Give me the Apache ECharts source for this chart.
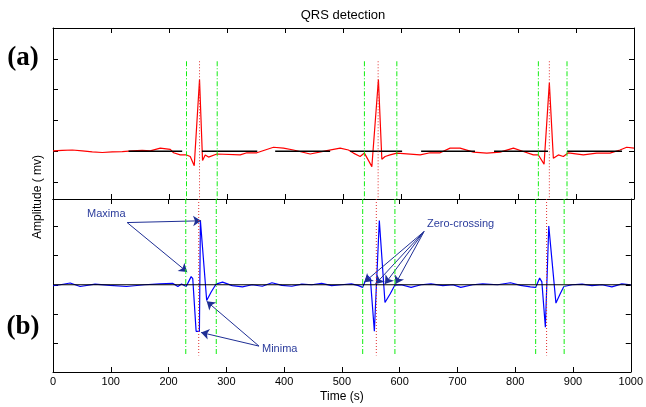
<!DOCTYPE html>
<html><head><meta charset="utf-8">
<script src="https://cdn.jsdelivr.net/npm/echarts@6/dist/echarts.min.js"></script>
<style>html,body{margin:0;padding:0;background:#fff}#c{width:646px;height:407px}</style>
</head><body><div id="c"></div>
<script>
// ---- data ----
const ecgTime = [0,16,33.3,50.4,67.6,84.8,102,119.2,136.4,153.6,167.4,184.6,201.8,207.5,219,229.8,236.2,243.1,252.2,257.4,262,267.7,282.1,322.2,333.7,350.9,379.5,396.7,413.9,442.6,471.4,494.2,508.5,517.1,528.6,536,548.8,560.1,566,571.6,580.2,591.8,631.9,649.1,666.3,683.5,700.7,723.6,746.6,769.5,792.4,809.6,826.8,835.4,845.2,854.3,861.2,869.8,878.4,887,912.8,935.8,958.7,975.9,987.4,1000];
const ecgAmp = [0.01,0.03,0.04,0.01,-0.02,-0.04,-0.02,-0.01,0.01,0.03,0.01,0.10,0.06,-0.05,-0.12,-0.12,-0.17,-0.47,2.33,-0.30,-0.12,-0.19,-0.09,-0.12,-0.05,-0.05,0.13,0.10,0.04,-0.09,0.02,0.10,0.04,-0.06,-0.17,-0.06,-0.50,2.33,-0.26,-0.17,-0.12,-0.06,-0.12,-0.05,-0.05,0.10,0.10,-0.03,-0.06,-0.03,0.10,-0.01,-0.12,-0.12,-0.42,2.22,-0.23,-0.12,-0.17,-0.05,-0.12,-0.06,-0.06,0.04,0.13,0.10];

const derivTime = [0,12.6,29.8,47,72.8,98.6,127.3,158.7,184.6,207,216.1,222.4,230.5,239.1,241.9,247.7,253.4,255.1,258,266,274,282.1,293.5,310.2,327.9,344.6,362.3,379,396.2,413.4,430.6,447.8,465,482.2,499.4,516.6,528.7,536,544.1,549.3,556.2,564.8,574.6,583.7,591.8,602.6,619.8,637,654.2,674.8,692.1,705.8,726.5,743.7,769.5,791.9,809.1,826.3,835.4,842.3,846.1,852.2,858.1,870.5,877.9,884.2,898.5,915.7,932.9,950.1,967.3,984.5,1000];
const derivAmp = [-0.03,0,0.06,-0.06,0.02,-0.02,-0.06,0,0.03,0.05,-0.06,0.03,-0.06,0.28,0.21,-1.60,-1.60,2.21,2.21,-0.54,-0.24,0.02,0.09,-0.03,-0.07,0,-0.05,0.07,-0.02,-0.05,0.02,0,0.05,-0.03,0,0.03,-0.03,-0.09,0.31,0.21,-1.60,2.21,-0.61,-0.31,-0.01,0,-0.09,0,0.03,-0.03,0,-0.09,0,0.03,0,0.07,-0.02,-0.07,-0.09,0.23,0.10,-1.46,2.02,-0.63,-0.31,-0.06,0,0.02,-0.03,0,-0.07,0.03,0];

const qrsOnset  = [229.8, 536, 835.4];
const qrsOffset = [282.6, 591.8, 884.7];
const rPeak     = [252.2, 559.6, 854.3];

const baseSegStart = [130, 256.3, 382.4, 511.4, 633.6, 759.1, 884.7];
const baseSegEnd   = [222.4, 351.6, 477, 600.9, 726.4, 852, 979.4];

const topYTicks = [-1,0,1,2,3];
const botYTicks = [-2,-1,0,1,2];

// annotations (data coordinates of the lower panel)
const maximaFrom = [128.3, 2.14];
const maximaTo = [[256.3, 2.2], [232.2, 0.44]];
const minimaFrom = [356.6, -2.11];
const minimaTo = [[256.3, -1.64], [266, -0.57]];
const zeroFrom = [642.2, 1.83];
const zeroTo = [[539, 0.09], [558.4, 0.03], [574.6, 0.03], [592.8, 0.03]];

// ---- chart ----
const chart = echarts.init(document.getElementById('c'), null, {renderer: 'canvas'});
const FONT = 'Liberation Sans, Arial, Helvetica, sans-serif';
const TOP = {min: -1.55, max: 4, vTop: 2.92};
const BOT = {min: -3, max: 2.95, vBot: -2.43};

function xAx(grid, pos, labels) {
  return {
    type: 'value', gridIndex: grid, position: pos, min: 0, max: 1000, interval: 100,
    axisLine: {show: true, onZero: false, lineStyle: {color: '#000', width: 1}},
    axisTick: {show: true, inside: true, length: 5, lineStyle: {color: '#000'}},
    axisLabel: {show: labels, color: '#000', fontFamily: FONT, fontSize: 11, margin: 4, formatter: v => String(v)},
    splitLine: {show: false},
    name: labels ? 'Time (s)' : '', nameLocation: 'middle', nameGap: 19,
    nameTextStyle: {color: '#000', fontFamily: FONT, fontSize: 12}
  };
}
function yAx(grid, pos, r, ticks) {
  return {
    type: 'value', gridIndex: grid, position: pos, min: r.min, max: r.max,
    axisLine: {show: true, onZero: false, lineStyle: {color: '#000', width: 1}},
    axisTick: {show: true, inside: true, length: 5, customValues: ticks, lineStyle: {color: '#000'}},
    axisLabel: {show: false},
    splitLine: {show: false}
  };
}

const series = [];
series.push({type: 'line', xAxisIndex: 0, yAxisIndex: 0, data: ecgTime.map((t, i) => [t, ecgAmp[i]]),
  showSymbol: false, lineStyle: {color: '#ff0000', width: 1.2}, z: 3});
baseSegStart.forEach((s, i) => series.push({type: 'line', xAxisIndex: 0, yAxisIndex: 0,
  data: [[s, 0], [baseSegEnd[i], 0]], showSymbol: false, lineStyle: {color: '#000', width: 1.4}, z: 4}));
series.push({type: 'line', xAxisIndex: 2, yAxisIndex: 2, data: derivTime.map((t, i) => [t, derivAmp[i]]),
  showSymbol: false, lineStyle: {color: '#0000ff', width: 1.2}, z: 3});
series.push({type: 'line', xAxisIndex: 2, yAxisIndex: 2, data: [[0, 0], [1000, 0]],
  showSymbol: false, lineStyle: {color: '#000', width: 1.2}, z: 4});

const greenStyle = {color: '#11ee11', width: 1, type: [5, 2, 1, 2]};
const redStyle = {color: '#e03030', width: 1, type: [1, 2]};
function vline(t, axis, y0, y1, style) {
  series.push({type: 'line', xAxisIndex: axis, yAxisIndex: axis, data: [[t, y0], [t, y1]],
    showSymbol: false, lineStyle: style, z: 5});
}
qrsOnset.concat(qrsOffset).forEach(t => { vline(t, 0, TOP.vTop, TOP.min, greenStyle); vline(t, 2, BOT.max, BOT.vBot, greenStyle); });
rPeak.forEach(t => { vline(t, 0, TOP.vTop, TOP.min, redStyle); vline(t, 2, BOT.max, BOT.vBot, redStyle); });

// arrows
const arrowData = [];
maximaTo.forEach(p => arrowData.push([{coord: maximaFrom}, {coord: p}]));
minimaTo.forEach(p => arrowData.push([{coord: minimaFrom}, {coord: p}]));
zeroTo.forEach(p => arrowData.push([{coord: zeroFrom}, {coord: p}]));
series.push({type: 'line', xAxisIndex: 2, yAxisIndex: 2, data: [[0, 0]], showSymbol: false, lineStyle: {opacity: 0}, z: 6,
  markLine: {silent: true, animation: false, symbol: ['none', 'arrow'], symbolSize: 8, symbolOffset: 0,
    label: {show: false}, itemStyle: {color: '#1f2f95'}, lineStyle: {color: '#1f2f95', width: 1, type: 'solid'}, data: arrowData}});

const blueText = {fill: '#2b3c9c', font: '11px ' + FONT};
chart.setOption({
  animation: false,
  backgroundColor: '#fff',
  grid: [
    {left: 53, right: 12, top: 28, height: 171, containLabel: false},
    {left: 53, right: 12, top: 199, height: 173, containLabel: false}
  ],
  xAxis: [xAx(0, 'bottom', false), xAx(0, 'top', false), xAx(1, 'bottom', true), xAx(1, 'top', false)],
  yAxis: [yAx(0, 'left', TOP, topYTicks), yAx(0, 'right', TOP, topYTicks), yAx(1, 'left', BOT, botYTicks), yAx(1, 'right', BOT, botYTicks)],
  series: series,
  graphic: [
    {type: 'text', x: 343, y: 15, style: {text: 'QRS detection', fill: '#000', font: '13px ' + FONT, align: 'center', verticalAlign: 'middle'}},
    {type: 'text', x: 38, y: 197, rotation: Math.PI / 2, style: {text: 'Amplitude ( mv)', fill: '#000', font: '12px ' + FONT, align: 'center', verticalAlign: 'middle'}},
    {type: 'text', x: 23, y: 58, style: {text: '(a)', fill: '#000', font: 'bold 27px Liberation Serif, Times New Roman, serif', align: 'center', verticalAlign: 'middle'}},
    {type: 'text', x: 23, y: 327, style: {text: '(b)', fill: '#000', font: 'bold 27px Liberation Serif, Times New Roman, serif', align: 'center', verticalAlign: 'middle'}},
    {type: 'text', left: 87, top: 208, style: Object.assign({text: 'Maxima'}, blueText)},
    {type: 'text', left: 262, top: 343, style: Object.assign({text: 'Minima'}, blueText)},
    {type: 'text', left: 427, top: 218, style: Object.assign({text: 'Zero-crossing'}, blueText)}
  ]
});
</script></body></html>
